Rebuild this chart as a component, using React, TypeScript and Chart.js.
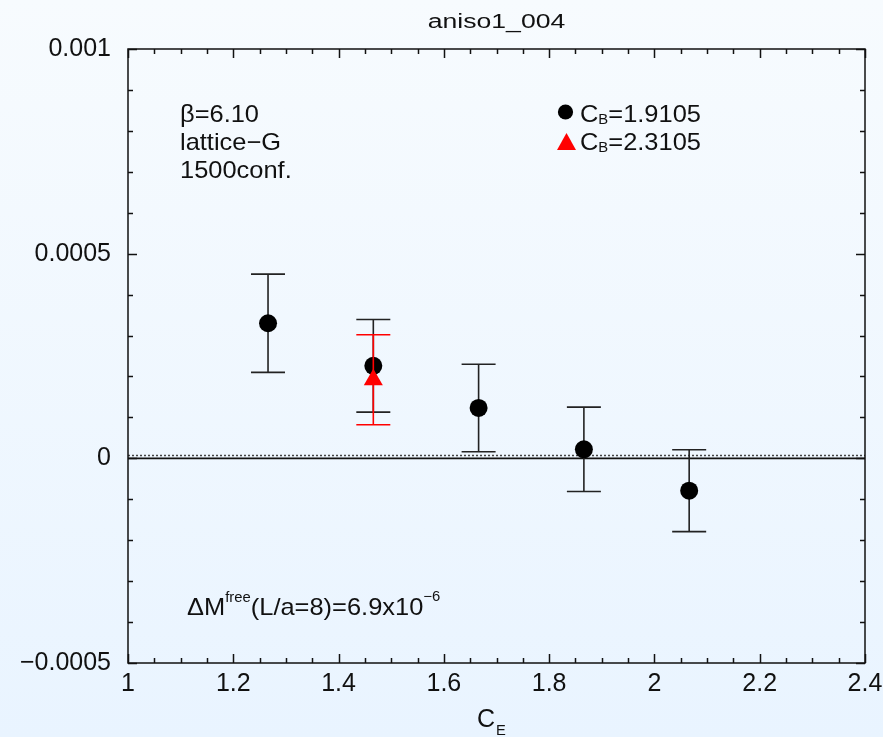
import React, { useEffect, useRef } from "react";
import { Chart, registerables } from "chart.js";

Chart.register(...registerables);

// ---- data ----
const chartTitle = "aniso1_004";
const cE1910 = [1.266, 1.466, 1.666, 1.866, 2.066];
const dM1910 = [0.00033, 0.000226, 0.000123, 0.000022, -0.000079];
const err1910 = [0.00012, 0.000113, 0.000107, 0.000103, 0.0001];
const cE2310 = [1.466];
const dM2310 = [0.000192];
const err2310 = [0.00011];
const freeShift = 6.9e-6;
const xTickValues = [1, 1.2, 1.4, 1.6, 1.8, 2, 2.2, 2.4];
const xTickLabels = ["1", "1.2", "1.4", "1.6", "1.8", "2", "2.2", "2.4"];
const yTickValues = [-0.0005, 0, 0.0005, 0.001];
const yTickLabels = ["\u22120.0005", "0", "0.0005", "0.001"];
const xMinorStep = 0.05;
const yMinorStep = 0.0001;
const infoLines = ["\u03B2=6.10", "lattice\u2212G", "1500conf."];
const legendLabels = ["=1.9105", "=2.3105"];

const FONT = "'Liberation Sans', Arial, Helvetica, sans-serif";

function txt(ctx: CanvasRenderingContext2D, s: string, x: number, y: number, size: number, sx = 1.06) {
  ctx.save();
  ctx.font = `${size}px ${FONT}`;
  ctx.textBaseline = "alphabetic";
  ctx.textAlign = "left";
  ctx.translate(x, y);
  ctx.scale(sx, 1);
  ctx.fillText(s, 0, 0);
  const w = ctx.measureText(s).width * sx;
  ctx.restore();
  return w;
}

const bgPlugin = {
  id: "bg",
  beforeDraw(chart: any) {
    const { ctx, width, height } = chart;
    const g = ctx.createLinearGradient(0, 0, 0, height);
    g.addColorStop(0, "#f7fbfe");
    g.addColorStop(1, "#e9f4ff");
    ctx.save();
    ctx.fillStyle = g;
    ctx.fillRect(0, 0, width, height);
    ctx.restore();
  },
};

const errPlugin = {
  id: "errbars",
  beforeDatasetDraw(chart: any, args: any) {
    const ds = chart.data.datasets[args.index];
    if (!ds.err) return;
    const { ctx } = chart;
    const xs = chart.scales.x;
    const ys = chart.scales.y;
    ctx.save();
    ctx.strokeStyle = ds.errColor;
    ctx.lineWidth = 1.6;
    ds.data.forEach((p: any, i: number) => {
      const x = xs.getPixelForValue(p.x);
      const yt = ys.getPixelForValue(p.y + ds.err[i]);
      const yb = ys.getPixelForValue(p.y - ds.err[i]);
      ctx.beginPath();
      ctx.moveTo(x, yt);
      ctx.lineTo(x, yb);
      ctx.moveTo(x - 17, yt);
      ctx.lineTo(x + 17, yt);
      ctx.moveTo(x - 17, yb);
      ctx.lineTo(x + 17, yb);
      ctx.stroke();
    });
    ctx.restore();
  },
};

const framePlugin = {
  id: "frame",
  afterDraw(chart: any) {
    const { ctx, chartArea: a } = chart;
    const xs = chart.scales.x;
    const ys = chart.scales.y;
    ctx.save();
    ctx.strokeStyle = "#111";
    ctx.lineWidth = 1.5;
    ctx.strokeRect(a.left, a.top, a.right - a.left, a.bottom - a.top);
    ctx.beginPath();
    const isMajor = (v: number, arr: number[]) => arr.some((m) => Math.abs(m - v) < 1e-9);
    const nx = Math.round((xs.max - xs.min) / xMinorStep);
    for (let i = 0; i <= nx; i++) {
      const v = xs.min + i * xMinorStep;
      const L = isMajor(v, xTickValues) ? 9 : 5;
      const px = Math.round(xs.getPixelForValue(v)) + 0.5;
      ctx.moveTo(px, a.bottom);
      ctx.lineTo(px, a.bottom - L);
      ctx.moveTo(px, a.top);
      ctx.lineTo(px, a.top + L);
    }
    const ny = Math.round((ys.max - ys.min) / yMinorStep);
    for (let i = 0; i <= ny; i++) {
      const v = ys.min + i * yMinorStep;
      const L = isMajor(v, yTickValues) ? 9 : 5;
      const py = Math.round(ys.getPixelForValue(v)) + 0.5;
      ctx.moveTo(a.left, py);
      ctx.lineTo(a.left + L, py);
      ctx.moveTo(a.right, py);
      ctx.lineTo(a.right - L, py);
    }
    ctx.stroke();

    ctx.fillStyle = "#111";
    // title
    ctx.save();
    ctx.font = `20px ${FONT}`;
    const tw = ctx.measureText(chartTitle).width * 1.33;
    ctx.restore();
    txt(ctx, chartTitle, (a.left + a.right) / 2 - tw / 2, 28, 20, 1.33);

    // x axis title C_E
    let x = 477;
    x += txt(ctx, "C", x, 727, 25, 1.0);
    txt(ctx, "E", x + 1, 735, 14, 1.05);

    // info lines
    infoLines.forEach((s, i) => txt(ctx, s, 180, 122 + i * 28, 24));

    // legend
    ctx.fillStyle = "#000";
    ctx.beginPath();
    ctx.arc(565.5, 112, 7.6, 0, Math.PI * 2);
    ctx.fill();
    ctx.fillStyle = "#ff0000";
    ctx.beginPath();
    ctx.moveTo(566.5, 133);
    ctx.lineTo(576, 150);
    ctx.lineTo(557, 150);
    ctx.closePath();
    ctx.fill();
    ctx.fillStyle = "#111";
    legendLabels.forEach((s, i) => {
      const by = 122 + i * 28;
      let lx = 580;
      lx += txt(ctx, "C", lx, by, 24);
      lx += txt(ctx, "B", lx, by + 2, 14);
      txt(ctx, s, lx, by, 24);
    });

    // free mass shift annotation
    let fx = 187;
    fx += txt(ctx, "\u0394M", fx, 615, 24);
    fx += txt(ctx, "free", fx, 602, 14);
    fx += txt(ctx, "(L/a=8)=6.9x10", fx, 615, 24);
    txt(ctx, "\u22126", fx, 601, 14);
    ctx.restore();
  },
};

export default function App() {
  const ref = useRef<HTMLCanvasElement | null>(null);
  useEffect(() => {
    document.body.style.margin = "0";
    const canvas = ref.current!;
    const chart = new Chart(canvas, {
      type: "scatter",
      data: {
        datasets: [
          {
            label: "C_B=2.3105",
            data: cE2310.map((x, i) => ({ x, y: dM2310[i] })),
            pointStyle: "triangle",
            pointRadius: 11,
            backgroundColor: "#ff0000",
            borderWidth: 0,
            order: 0,
            err: err2310,
            errColor: "#ff0000",
          } as any,
          {
            label: "C_B=1.9105",
            data: cE1910.map((x, i) => ({ x, y: dM1910[i] })),
            pointStyle: "circle",
            pointRadius: 9,
            backgroundColor: "#000",
            borderWidth: 0,
            order: 1,
            err: err1910,
            errColor: "#222",
          } as any,
          {
            label: "zero",
            data: [
              { x: xTickValues[0], y: 0 },
              { x: xTickValues[xTickValues.length - 1], y: 0 },
            ],
            showLine: true,
            borderColor: "#111",
            borderWidth: 1.6,
            pointRadius: 0,
            order: 3,
          } as any,
          {
            label: "free",
            data: [
              { x: xTickValues[0], y: freeShift },
              { x: xTickValues[xTickValues.length - 1], y: freeShift },
            ],
            showLine: true,
            borderColor: "#444",
            borderWidth: 1.5,
            borderDash: [2, 2],
            pointRadius: 0,
            order: 2,
          } as any,
        ],
      },
      options: {
        animation: false,
        responsive: false,
        devicePixelRatio: 1,
        layout: { padding: { top: 49, right: 18, left: 0, bottom: 0 } },
        plugins: { legend: { display: false }, tooltip: { enabled: false }, title: { display: false } },
        scales: {
          x: {
            type: "linear",
            min: xTickValues[0],
            max: xTickValues[xTickValues.length - 1],
            grid: { display: false, drawTicks: false },
            border: { display: false },
            ticks: {
              stepSize: 0.2,
              autoSkip: false,
              maxRotation: 0,
              padding: 6,
              color: "#111",
              font: { family: FONT, size: 25 },
              callback: (v: any) => {
                const i = xTickValues.findIndex((t) => Math.abs(t - v) < 1e-6);
                return i >= 0 ? xTickLabels[i] : "";
              },
            },
            afterFit: (s: any) => {
              s.height = 74;
              s.paddingLeft = 0;
              s.paddingRight = 0;
            },
          },
          y: {
            type: "linear",
            min: yTickValues[0],
            max: yTickValues[yTickValues.length - 1],
            grid: { display: false, drawTicks: false },
            border: { display: false },
            ticks: {
              stepSize: 0.0005,
              autoSkip: false,
              padding: 17,
              color: "#111",
              font: { family: FONT, size: 25 },
              callback: (v: any) => {
                const i = yTickValues.findIndex((t) => Math.abs(t - v) < 1e-9);
                return i >= 0 ? yTickLabels[i] : "";
              },
            },
            afterFit: (s: any) => {
              s.width = 128;
              s.paddingTop = 0;
              s.paddingBottom = 0;
            },
          },
        },
      } as any,
      plugins: [bgPlugin, errPlugin, framePlugin],
    });
    return () => chart.destroy();
  }, []);
  return (
    <div style={{ width: 883, height: 737 }}>
      <canvas ref={ref} width={883} height={737} style={{ display: "block" }} />
    </div>
  );
}
